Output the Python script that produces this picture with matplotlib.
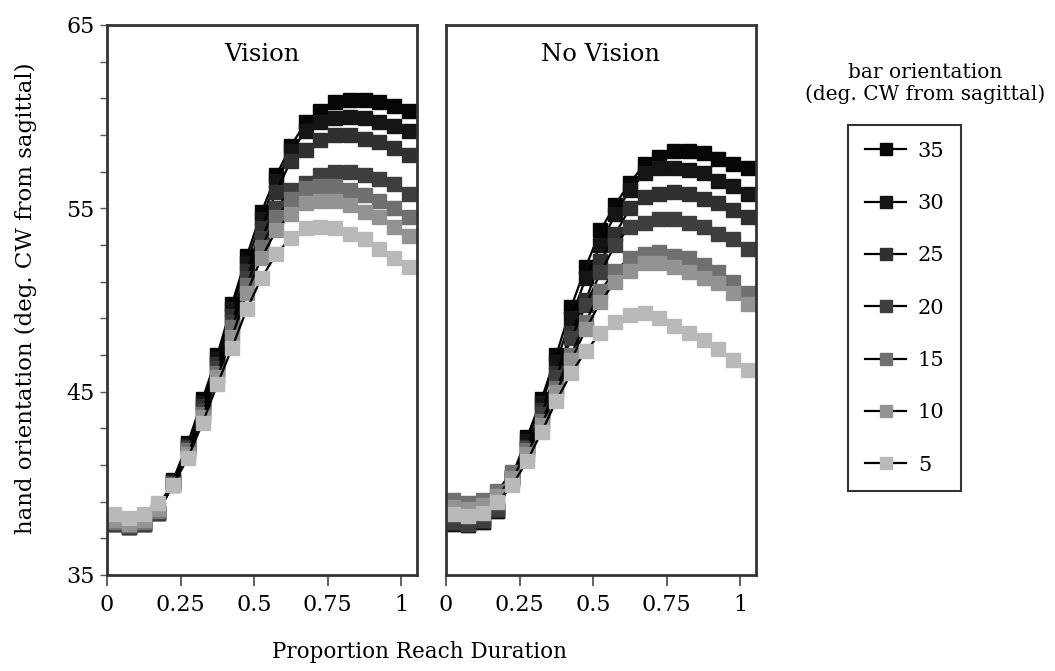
import matplotlib
matplotlib.use('Agg')
import matplotlib.pyplot as plt
from matplotlib.ticker import FixedLocator

plt.rcParams['font.family'] = ['DejaVu Serif', 'Liberation Serif']

# proportion of reach duration (bin centres)
XS = [0.025, 0.075, 0.125, 0.175, 0.225, 0.275, 0.325, 0.375, 0.425, 0.475, 0.525,
      0.575, 0.625, 0.675, 0.725, 0.775, 0.825, 0.875, 0.925, 0.975, 1.025]

ORIENT = ['35', '30', '25', '20', '15', '10', '5']
GRAYS = ['#060606', '#151515', '#303030', '#3e3e3e', '#707070', '#939393', '#b9b9b9']

VISION = {
    '35': [37.8, 37.6, 37.8, 38.4, 40.2, 42.2, 44.6, 47.0, 49.8, 52.4, 54.8, 56.8, 58.4, 59.7, 60.3, 60.8, 60.9, 60.9, 60.8, 60.6, 60.3],
    '30': [37.8, 37.6, 37.8, 38.4, 40.1, 42.1, 44.4, 46.8, 49.5, 52.0, 54.4, 56.5, 58.1, 59.2, 59.7, 59.9, 60.0, 59.9, 59.7, 59.5, 59.2],
    '25': [37.8, 37.6, 37.8, 38.4, 40.0, 42.0, 44.2, 46.5, 49.1, 51.6, 53.9, 55.9, 57.6, 58.2, 58.7, 59.0, 59.0, 58.8, 58.6, 58.3, 57.9],
    '20': [37.8, 37.6, 37.8, 38.4, 40.0, 41.9, 44.0, 46.3, 48.8, 51.2, 53.4, 55.0, 56.0, 56.4, 56.8, 57.0, 57.0, 56.8, 56.6, 56.3, 55.8],
    '15': [37.9, 37.7, 37.9, 38.5, 39.9, 41.8, 43.8, 46.0, 48.5, 50.8, 52.9, 54.5, 55.5, 56.1, 56.2, 56.2, 56.0, 55.7, 55.4, 55.0, 54.5],
    '10': [38.0, 37.8, 38.0, 38.6, 39.9, 41.6, 43.6, 45.8, 48.0, 50.4, 52.3, 53.8, 54.7, 55.3, 55.4, 55.4, 55.2, 54.8, 54.5, 54.0, 53.5],
    '5':  [38.3, 38.1, 38.3, 38.9, 39.9, 41.4, 43.3, 45.4, 47.4, 49.5, 51.2, 52.5, 53.4, 53.9, 54.0, 53.9, 53.6, 53.3, 52.8, 52.3, 51.8],
}

NO_VISION = {
    '35': [37.8, 37.7, 37.9, 38.5, 40.4, 42.5, 44.6, 47.0, 49.6, 51.8, 53.8, 55.2, 56.4, 57.4, 57.8, 58.1, 58.1, 58.0, 57.7, 57.4, 57.2],
    '30': [37.8, 37.7, 37.9, 38.5, 40.3, 42.3, 44.4, 46.6, 49.0, 51.2, 53.0, 54.7, 56.0, 56.9, 57.2, 57.2, 57.1, 56.9, 56.5, 56.2, 55.8],
    '25': [37.9, 37.8, 38.0, 38.6, 40.3, 42.0, 44.0, 46.0, 48.2, 50.0, 52.1, 53.6, 55.0, 55.6, 55.8, 55.9, 55.8, 55.5, 55.3, 54.9, 54.5],
    '20': [37.9, 37.8, 38.0, 38.6, 40.2, 41.9, 43.8, 45.8, 47.9, 49.7, 51.5, 53.0, 54.0, 54.2, 54.4, 54.4, 54.2, 54.0, 53.6, 53.3, 52.8],
    '15': [39.1, 38.9, 39.1, 39.6, 40.6, 41.8, 43.4, 45.2, 47.0, 48.8, 50.5, 51.6, 52.3, 52.5, 52.6, 52.4, 52.3, 51.9, 51.5, 51.0, 50.4],
    '10': [38.7, 38.6, 38.8, 39.3, 40.3, 41.6, 43.2, 45.0, 46.7, 48.4, 49.9, 51.0, 51.6, 52.0, 52.0, 51.8, 51.5, 51.2, 50.9, 50.4, 49.8],
    '5':  [38.3, 38.2, 38.4, 39.0, 39.9, 41.2, 42.8, 44.5, 46.0, 47.2, 48.2, 48.8, 49.2, 49.3, 49.0, 48.6, 48.2, 47.8, 47.3, 46.7, 46.2],
}

YTICKS = [35, 45, 55, 65]
YMINOR = [37, 39, 41, 43, 47, 49, 51, 53, 57, 59, 61, 63]

fig = plt.figure(figsize=(10.55, 6.71), dpi=100)
ax1 = fig.add_axes([0.1014, 0.1431, 0.2938, 0.8197])
ax2 = fig.add_axes([0.4227, 0.1431, 0.2938, 0.8197])

for ax, data, title in [(ax1, VISION, 'Vision'), (ax2, NO_VISION, 'No Vision')]:
    for key, col in zip(ORIENT, GRAYS):
        ax.plot(XS, data[key], color='black', linewidth=1.6, marker='s', markersize=10.5,
                markerfacecolor=col, markeredgecolor=col, label=key)
    ax.set_xlim(0, 1.053)
    ax.set_ylim(35, 65)
    ax.set_xticks([0, 0.25, 0.5, 0.75, 1])
    ax.set_xticklabels(['0', '0.25', '0.5', '0.75', '1'])
    ax.tick_params(axis='x', direction='out', length=8, width=1.2, color='#444444',
                   labelsize=16, pad=6)
    for sp in ax.spines.values():
        sp.set_linewidth(2)
        sp.set_color('#333333')
    ax.text(0.5, 0.968, title, transform=ax.transAxes, ha='center', va='top', fontsize=17.5)

ax1.set_yticks(YTICKS)
ax1.yaxis.set_minor_locator(FixedLocator(YMINOR))
ax1.tick_params(axis='y', which='both', direction='out', length=5, width=1,
                color='#555555', labelsize=16, pad=4)
ax2.set_yticks([])

fig.text(0.025, 0.556, 'hand orientation (deg. CW from sagittal)', rotation=90,
         ha='center', va='center', fontsize=16.5)
fig.text(0.398, 0.028, 'Proportion Reach Duration', ha='center', va='center', fontsize=15.5)
fig.text(0.877, 0.875, 'bar orientation\n(deg. CW from sagittal)', ha='center', va='center',
         fontsize=14.5, linespacing=1.15)

handles, labels = ax1.get_legend_handles_labels()
leg = fig.legend(handles, labels, loc='upper left', bbox_to_anchor=(848 / 1055, 1 - 125 / 671),
                 frameon=True, fancybox=False, edgecolor='black', fontsize=15,
                 labelspacing=1.6, handlelength=2.0, handletextpad=0.55,
                 borderpad=0.8, borderaxespad=0, markerscale=0.85)
leg.get_frame().set_linewidth(1.5)

fig.savefig('out.png', dpi=100)
